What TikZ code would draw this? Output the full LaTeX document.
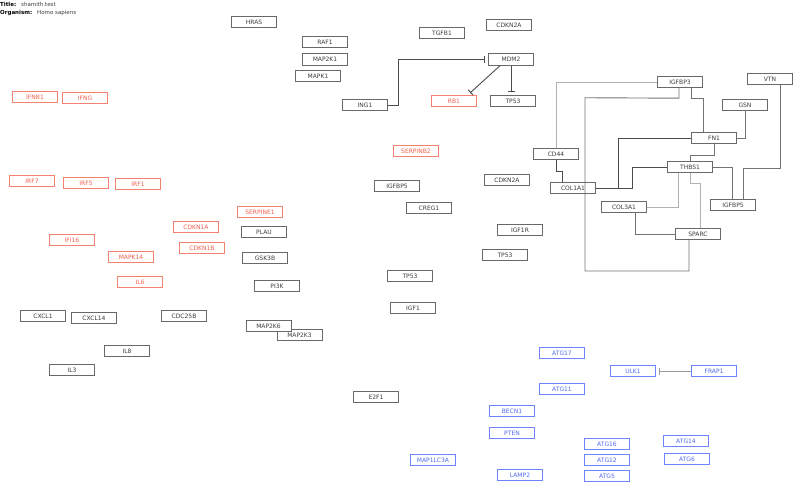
\documentclass[tikz,border=0pt]{standalone}
\usepackage{fontspec}
\setmainfont{DejaVu Sans}
\usepackage{tikz}
\usetikzlibrary{arrows.meta}
\definecolor{boxgray}{RGB}{105,105,105}
\definecolor{boxred}{RGB}{244,128,110}
\definecolor{boxblue}{RGB}{110,132,255}
\definecolor{txtgray}{RGB}{60,60,60}
\definecolor{txtred}{RGB}{240,95,80}
\definecolor{txtblue}{RGB}{80,105,240}
\newcommand{\genefont}{\fontsize{6}{7}\selectfont}
\newcommand{\titlefont}{\fontsize{5.5}{6}\selectfont}
\tikzset{
    genebox/.style={
        draw,
        line width=0.9pt,
        minimum width=45pt,
        minimum height=11.5pt,
        inner sep=0pt,
        font=\genefont
    },
    % 三种颜色的框
    graybox/.style={genebox, draw=boxgray, text=txtgray},
    redbox/.style={genebox, draw=boxred, text=txtred},
    bluebox/.style={genebox, draw=boxblue, text=txtblue},
    darkline/.style={line width=0.9pt, black!70},
    midline/.style={line width=0.9pt, black!55},
    lightline/.style={line width=0.9pt, black!30},
    bararrow/.style={
        line width=0.9pt,
        black!70,
        -{Bar[width=7pt,line width=1pt]},
        shorten >=3pt
    }
}

\begin{document}
\begin{tikzpicture}[x=1pt,y=-1pt]
	\useasboundingbox (0,0) rectangle (800,489);
	
	% 标题
	\node[anchor=west,inner sep=0pt,font=\titlefont\bfseries] (titlekey) at (0,4.5) {Title:};
	\node[anchor=west,inner sep=0pt,font=\titlefont,text=txtgray] (titleval) at (21,4.5) {shamith.test};
	\node[anchor=west,inner sep=0pt,font=\titlefont\bfseries] (orgkey) at (0,13) {Organism:};
	\node[anchor=west,inner sep=0pt,font=\titlefont,text=txtgray] (orgval) at (37,13) {Homo sapiens};
	
	% 灰色基因
	\node[graybox] (hras) at (254,22) {HRAS};
	\node[graybox] (raf) at (325,42) {RAF1};
	\node[graybox] (mapkk) at (325,59.5) {MAP2K1};
	\node[graybox] (mapk) at (318,76) {MAPK1};
	\node[graybox] (ing) at (365,105) {ING1};
	\node[graybox] (tgfb) at (442,33) {TGFB1};
	\node[graybox] (cdknA) at (509,25) {CDKN2A};
	\node[graybox] (mdm) at (511,59.5) {MDM2};
	\node[graybox] (tpA) at (513,101) {TP53};
	\node[graybox] (igfbpiii) at (680,82) {IGFBP3};
	\node[graybox] (vtn) at (770,79) {VTN};
	\node[graybox] (gsn) at (745,105) {GSN};
	\node[graybox] (fn) at (714,138) {FN1};
	\node[graybox] (cd) at (556,154) {CD44};
	\node[graybox] (thbs) at (690,167) {THBS1};
	\node[graybox] (colI) at (573,188) {COL1A1};
	\node[graybox] (igfbpvA) at (733,205) {IGFBP5};
	\node[graybox] (colIII) at (624,207) {COL3A1};
	\node[graybox] (sparc) at (698,234) {SPARC};
	\node[graybox] (plau) at (264,232) {PLAU};
	\node[graybox] (gsk) at (265,258) {GSK3B};
	\node[graybox] (pik) at (277,286) {PI3K};
	\node[graybox] (igfbpvB) at (397,186) {IGFBP5};
	\node[graybox] (cdknB) at (507,180) {CDKN2A};
	\node[graybox] (creg) at (429,208) {CREG1};
	\node[graybox] (igfr) at (520,230) {IGF1R};
	\node[graybox] (tpB) at (505,255) {TP53};
	\node[graybox] (tpC) at (410,276) {TP53};
	\node[graybox] (igf) at (413,308) {IGF1};
	\node[graybox] (mapkkiii) at (299.5,335) {MAP2K3};
	\node[graybox,fill=white] (mapkkvi) at (268.5,326) {MAP2K6};
	\node[graybox] (cxcl) at (43,316) {CXCL1};
	\node[graybox] (cxclxiv) at (94,318) {CXCL14};
	\node[graybox] (cdc) at (184,316) {CDC25B};
	\node[graybox] (iliix) at (127,351) {IL8};
	\node[graybox] (iliii) at (72,370) {IL3};
	\node[graybox] (ef) at (376,397) {E2F1};
	
	% 红色基因
	\node[redbox] (rb) at (454,101) {RB1};
	\node[redbox] (ifnb) at (35,97) {IFNB1};
	\node[redbox] (ifng) at (85,98) {IFNG};
	\node[redbox] (irfvii) at (32,181) {IRF7};
	\node[redbox] (irfv) at (86,183) {IRF5};
	\node[redbox] (irfi) at (138,184) {IRF1};
	\node[redbox] (serpe) at (260,212) {SERPINE1};
	\node[redbox] (cdkna) at (196,227) {CDKN1A};
	\node[redbox] (ifi) at (72,240) {IFI16};
	\node[redbox] (cdknb) at (202,248) {CDKN1B};
	\node[redbox] (mapkxiv) at (131,257) {MAPK14};
	\node[redbox] (ilvi) at (140,282) {IL6};
	\node[redbox] (serpb) at (416,151) {SERPINB2};
	
	% 蓝色基因
	\node[bluebox] (atgxvii) at (562,353) {ATG17};
	\node[bluebox] (atgxi) at (562,389) {ATG11};
	\node[bluebox] (ulk) at (633,371) {ULK1};
	\node[bluebox] (frap) at (714,371) {FRAP1};
	\node[bluebox] (becn) at (512,411) {BECN1};
	\node[bluebox] (pten) at (512,433) {PTEN};
	\node[bluebox] (lc) at (433,460) {MAP1LC3A};
	\node[bluebox] (lamp) at (520,475) {LAMP2};
	\node[bluebox] (atgxvi) at (607,444) {ATG16};
	\node[bluebox] (atgxiv) at (686,441) {ATG14};
	\node[bluebox] (atgxii) at (607,460) {ATG12};
	\node[bluebox] (atgvi) at (687,459) {ATG6};
	\node[bluebox] (atgv) at (607,476) {ATG5};
	
	% 抑制箭头
	\draw[bararrow] (ing.east) -- ++(10,0) |- (mdm.west);
	\draw[bararrow] ([xshift=-11pt]mdm.south) -- ([xshift=14pt]rb.north);
	\draw[bararrow] (mdm.south) -- (mdm.south |- tpA.north);
	\draw[bararrow,black!40] (frap.west) -- (ulk.east);
	
	% 连线
	\draw[lightline] (igfbpiii.west) -| (cd.north);
	\draw[darkline] (cd.south) -- ++(0,11) -| ([xshift=-11pt]colI.north);
	\draw[midline] ([xshift=-1pt]igfbpiii.south) -- ++(0,10) -- (585,97.75) -- (585,271) -| ([xshift=-9pt]sparc.south);
	\draw[midline] ([xshift=11pt]igfbpiii.south) -- ++(0,10) -| ([xshift=-11pt]fn.north);
	\draw[midline] (gsn.south) |- (fn.east);
	\draw[darkline] (fn.west) -| ([xshift=22pt]colI.east) -- (colI.east);
	\draw[darkline] (thbs.west) -| ([xshift=36pt]colI.east) -- (colI.east);
	\draw[midline] (fn.south) -- ++(0,11) -| (thbs.north);
	\draw[midline] (thbs.east) -| ([xshift=-1pt]igfbpvA.north);
	\draw[midline] ([xshift=10pt]vtn.south) -- ++(0,83) -| ([xshift=10pt]igfbpvA.north);
	\draw[lightline] ([xshift=-12pt]thbs.south) |- (colIII.east);
	\draw[lightline] (thbs.south) -- ++(0,10) -| ([xshift=2pt]sparc.north);
	\draw[midline] ([xshift=11pt]colIII.south) |- (sparc.west);
\end{tikzpicture}
\end{document}
